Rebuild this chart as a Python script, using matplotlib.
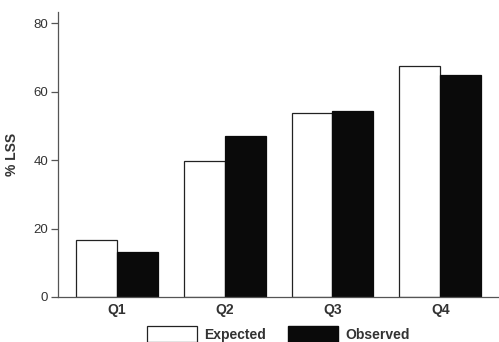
import matplotlib.pyplot as plt
from matplotlib.patches import Patch
import numpy as np

# Datos del grafico
cuartiles = ["Q1", "Q2", "Q3", "Q4"]
esperado = [16.8, 39.7, 53.9, 67.4]
observado = [13.1, 47.1, 54.5, 64.8]
etiquetas_y = [0, 20, 40, 60, 80]

plt.rcParams['font.family'] = ['Liberation Sans', 'DejaVu Sans']
color_texto = '#333333'

fig = plt.figure(figsize=(4.99, 3.42), dpi=100)
ax = fig.add_axes([0.1156, 0.1316, 0.8844, 0.8334])

x = np.arange(len(cuartiles))
ancho = 0.38
ax.bar(x - ancho/2, esperado, ancho, color='white', edgecolor='#222222', linewidth=0.9)
ax.bar(x + ancho/2, observado, ancho, color='#0a0a0a', edgecolor='#0a0a0a', linewidth=0.9)

ax.set_xlim(-0.55, 3.545)
ax.set_ylim(0, 83.3)
ax.set_yticks(etiquetas_y)
ax.set_xticks(x)
ax.set_xticklabels(cuartiles, fontsize=10, fontweight='bold', color=color_texto)
ax.tick_params(axis='x', length=0, pad=4)
ax.tick_params(axis='y', length=5, width=0.9, colors='#555555', labelsize=9.5,
               labelcolor=color_texto, pad=2)
ax.set_ylabel("% LSS", fontsize=10, fontweight='bold', color=color_texto, labelpad=10)

ax.spines['top'].set_visible(False)
ax.spines['right'].set_visible(False)
ax.spines['left'].set_color('#555555')
ax.spines['bottom'].set_color('#555555')
ax.spines['left'].set_linewidth(0.9)
ax.spines['bottom'].set_linewidth(0.9)

# Leyenda abajo, recortada por el borde de la figura
manijas = [Patch(facecolor='white', edgecolor='#222222', linewidth=0.9, label='Expected'),
           Patch(facecolor='#0a0a0a', edgecolor='#0a0a0a', label='Observed')]
leg = fig.legend(handles=manijas, loc='upper left', bbox_to_anchor=(0.294, 0.047),
                 ncol=2, frameon=False, fontsize=10, handlelength=3.6, handleheight=1.4,
                 handletextpad=0.5, columnspacing=1.65, borderpad=0, borderaxespad=0)
for t in leg.get_texts():
    t.set_fontweight('bold')
    t.set_color(color_texto)

plt.savefig("out.png", dpi=100)
plt.close()
